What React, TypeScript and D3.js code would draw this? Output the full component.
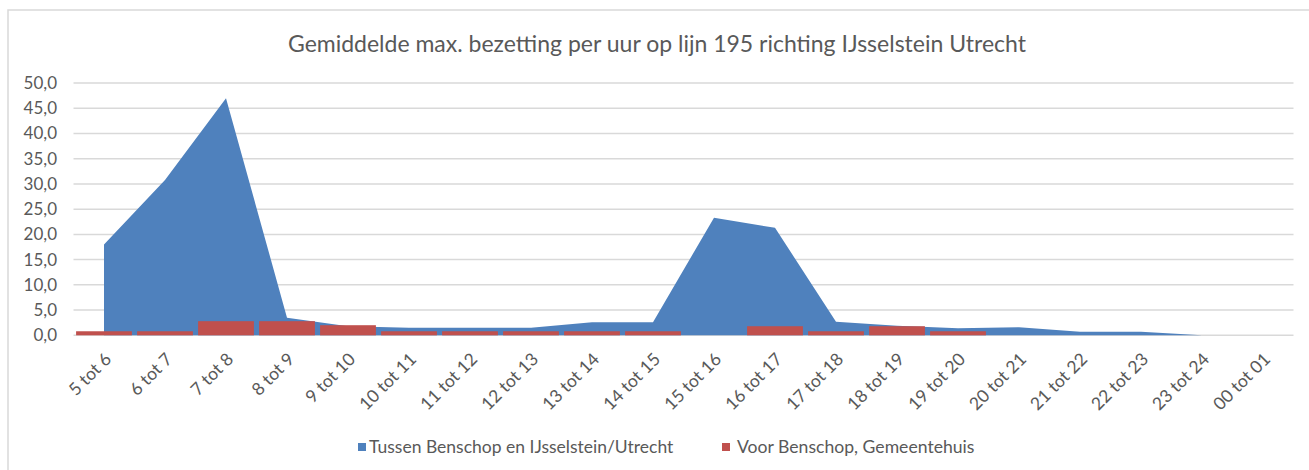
import React from "react";
import * as d3 from "d3";

const categories = [
  "5 tot 6", "6 tot 7", "7 tot 8", "8 tot 9", "9 tot 10", "10 tot 11", "11 tot 12",
  "12 tot 13", "13 tot 14", "14 tot 15", "15 tot 16", "16 tot 17", "17 tot 18",
  "18 tot 19", "19 tot 20", "20 tot 21", "21 tot 22", "22 tot 23", "23 tot 24", "00 tot 01",
];
const tussenValues = [18.0, 30.8, 47.0, 3.5, 1.8, 1.5, 1.5, 1.5, 2.6, 2.6, 23.3, 21.3, 2.7, 1.9, 1.4, 1.6, 0.7, 0.7, 0, 0];
const voorValues = [0.8, 0.8, 2.8, 2.8, 2.0, 0.8, 0.8, 0.8, 0.8, 0.8, 0, 1.8, 0.8, 1.8, 0.8, 0, 0, 0, 0, 0];
const yTicks = [0, 5, 10, 15, 20, 25, 30, 35, 40, 45, 50];
const seriesNames = ["Tussen Benschop en IJsselstein/Utrecht", "Voor Benschop, Gemeentehuis"];
const title = "Gemiddelde max. bezetting per uur op lijn 195 richting IJsselstein Utrecht";

const BLUE = "#4F81BD";
const RED = "#C0504D";
const GRID = "#D9D9D9";
const TEXT = "#595959";
const FONT = "Lato, 'Open Sans', sans-serif";

export default function App() {
  const W = 1309, H = 470;
  const left = 73.5, right = 1293.5, top = 83, bottom = 335.3;

  const x = d3.scaleBand<string>().domain(categories).range([left, right]).paddingInner(0.085).paddingOuter(0.0425);
  const xc = d3.scaleBand<string>().domain(categories).range([left, right]);
  const y = d3.scaleLinear().domain([0, 50]).range([bottom, top]);
  const center = (c: string) => (xc(c) as number) + xc.bandwidth() / 2;

  const area = d3.area<number>()
    .x((_, i) => center(categories[i]))
    .y0(y(0))
    .y1((d) => y(d));

  return (
    <svg width={W} height={H} style={{ position: "absolute", left: 0, top: 0, display: "block" }}>
      <rect x={0} y={0} width={W} height={H} fill="#fff" />
      <rect x={8} y={10} width={W + 10} height={H + 10} fill="none" stroke={GRID} strokeWidth={1.5} />
      <text x={657} y={52} textAnchor="middle" fontFamily={FONT} fontSize={23} fill={TEXT}>{title}</text>
      {yTicks.map((t) => (
        <g key={t}>
          <line x1={left} x2={right} y1={y(t)} y2={y(t)} stroke={GRID} strokeWidth={1.5} />
          <text x={57} y={y(t)} dy="0.35em" textAnchor="end" fontFamily={FONT} fontSize={17} fill={TEXT}>
            {d3.format(".1f")(t).replace(".", ",")}
          </text>
        </g>
      ))}
      <path d={area(tussenValues) || ""} fill={BLUE} />
      {voorValues.map((v, i) => (
        <rect key={i} x={x(categories[i])} width={x.bandwidth()} y={y(v)} height={y(0) - y(v)} fill={RED} />
      ))}
      {categories.map((c) => (
        <text key={c} transform={`translate(${center(c) + 4},${356}) rotate(-45)`} textAnchor="end" dy="0.35em"
          fontFamily={FONT} fontSize={17.5} fill={TEXT}>{c}</text>
      ))}
      <g>
        <rect x={358} y={443} width={8} height={8} fill={BLUE} />
        <text x={369} y={447} dy="0.35em" fontFamily={FONT} fontSize={17.5} fill={TEXT}>{seriesNames[0]}</text>
        <rect x={722} y={443} width={8} height={8} fill={RED} />
        <text x={737} y={447} dy="0.35em" fontFamily={FONT} fontSize={17.6} fill={TEXT}>{seriesNames[1]}</text>
      </g>
    </svg>
  );
}
